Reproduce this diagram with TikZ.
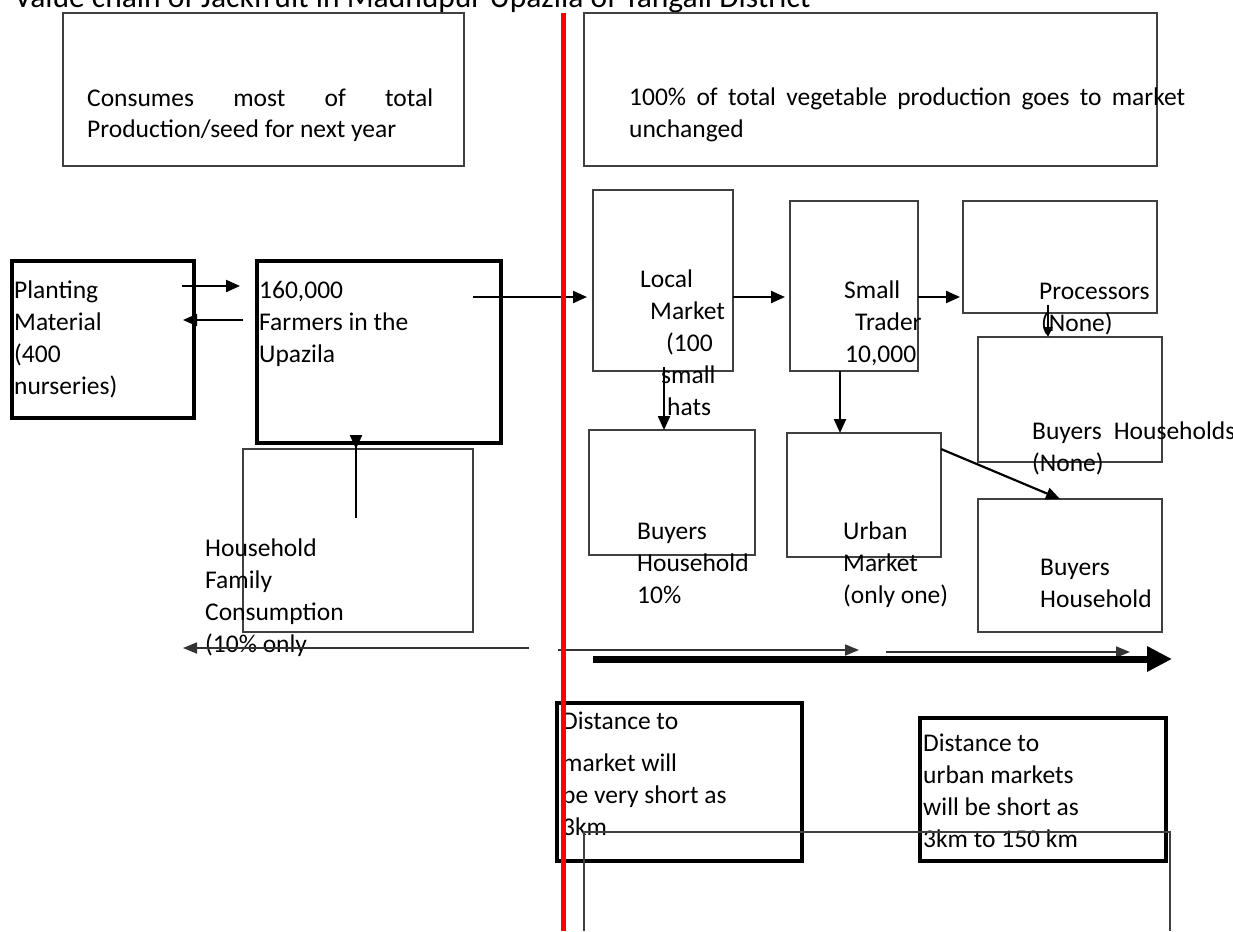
\documentclass[tikz,border=0pt]{standalone}
\usepackage{fontspec}
\setmainfont{Carlito}
\usepackage{tikz}
\usetikzlibrary{arrows.meta, positioning, fit, calc}

\begin{document}
\begin{tikzpicture}[
  x=1pt, y=-1pt,
  box/.style={rectangle, draw=black!75, line width=1.6pt, inner sep=0pt, outer sep=0pt},
  boldbox/.style={box, draw=black, line width=3.2pt},
  txt/.style={anchor=base west, align=left, inner sep=0pt, font=\fontsize{25.5}{32}\selectfont},
  arrow/.style={line width=2.2pt, -{Triangle[length=14pt,width=12pt]}},
  flow/.style={draw=black!80, line width=1.8pt, -{Triangle[length=14pt,width=11pt]}},
  bigflow/.style={line width=7pt, -{Triangle[length=25pt,width=24pt]}},
  divider/.style={red, line width=5pt}
]
\useasboundingbox (0,0) rectangle (1233,931);
\clip (0,0) rectangle (1233,931);

\node (title) [txt, font=\fontsize{31.5}{38}\selectfont] at (14,8) {Value chain of Jackfruit in Madhupur Upazila of Tangail District};

\node (cons) [box, fit={(63,13) (464,166)}] {};
\node (prod) [box, fit={(584,13) (1157,166)}] {};
\node (plant) [boldbox, fit={(12,261) (194,418)}] {};
\node (farm) [boldbox, fit={(257,261) (501,443)}] {};
\node (hh) [box, fit={(243,449) (473,632)}] {};
\node (local) [box, fit={(593,190) (733,371)}] {};
\node (small) [box, fit={(790,201) (918,371)}] {};
\node (proc) [box, fit={(963,201) (1157,313)}] {};
\node (bh2) [box, fit={(978,337) (1162,462)}] {};
\node (buy1) [box, fit={(589,430) (755,555)}] {};
\node (urban) [box, fit={(787,433) (941,557)}] {};
\node (bh3) [box, fit={(978,499) (1162,632)}] {};
\node (dist1) [boldbox, fit={(557,703) (802,861)}] {};
\node (dist2) [boldbox, fit={(920,718) (1166,861)}] {};

\node (consT) [txt] at (87,138) {\makebox[346pt][s]{Consumes most of total}\\Production/seed for next year};
\node (prodT) [txt] at (629,137) {\makebox[556pt][s]{100\% of total vegetable production goes to market}\\unchanged};
\node (plantT) [txt] at (14,394) {Planting\\Material\\(400\\nurseries)};
\node (farmT) [txt] at (259,362) {160,000\\Farmers in the\\Upazila};
\node (hhT) [txt] at (205,652) {Household\\Family\\Consumption\\(10\% only};
\node (localT) [txt] at (640,415) {Local\\\hspace*{10pt}Market\\\hspace*{26pt}(100\\\hspace*{21pt}small\\\hspace*{27pt}hats};
\node (smallT) [txt] at (844,362) {Small\\\hspace*{11pt}Trader\\\hspace*{1pt}10,000};
\node (procT) [txt] at (1039,331) {Processors\\\hspace*{2pt}(None)};
\node (bh2T) [txt] at (1032,471) {Buyers\hspace{12pt}Households\\(None)};
\node (buy1T) [txt] at (637,603) {Buyers\\Household\\10\%};
\node (urbanT) [txt] at (843,603) {Urban\\Market\\(only one)};
\node (bh3T) [txt] at (1040,607) {Buyers\\Household};
\node (dist1T) [txt] at (562,835) {Distance to\\[10pt]market will\\be very short as\\3km};
\node (dist2T) [txt] at (923,847) {Distance to\\urban markets\\will be short as\\3km to 150 km};

\coordinate (r1) at (0,286);
\coordinate (r2) at (0,320);
\coordinate (r3) at (0,297);
\coordinate (c1) at (356,0);
\coordinate (c2) at (664,0);
\coordinate (c3) at (840,0);
\coordinate (c4) at (1048,0);

\draw [arrow, shorten <=-12pt, shorten >=17pt] (plant.east |- r1) -- (farm.west |- r1);
\draw [arrow, shorten <=14pt, shorten >=-11pt] (farm.west |- r2) -- (plant.east |- r2);
\draw [arrow, shorten <=-28pt, shorten >=6pt] (farm.east |- r3) -- (local.west |- r3);
\draw [arrow, shorten >=5pt] (local.east |- r3) -- (small.west |- r3);
\draw [arrow, shorten >=3pt] (small.east |- r3) -- (proc.west |- r3);
\draw [arrow, shorten <=-75pt] (farm.south -| c1) -- (hh.north -| c1);
\draw [arrow, shorten <=-4pt] (local.south -| c2) -- (buy1.north -| c2);
\draw [arrow] (small.south -| c3) -- (urban.north -| c3);
\draw [arrow, shorten <=-8pt, -{Triangle[length=10pt,width=9pt]}] (proc.south -| c4) -- (bh2.north -| c4);
\draw [arrow] ([yshift=-16pt]urban.north east) -- ([xshift=-10pt]bh3.north);
\draw [flow] ([shift={(56,16)}]hh.south east) -- ([shift={(-60,16)}]hh.south west);

\coordinate (f1s) at (558,650);
\coordinate (f1e) at (859,650);
\coordinate (f2s) at (886,652);
\coordinate (f2e) at (1130,652);
\coordinate (f3s) at (593,659);
\coordinate (f3e) at (1172,659);
\draw [flow] (f1s) -- (f1e);
\draw [flow] (f2s) -- (f2e);
\draw [bigflow] (f3s) -- (f3e);

\draw [divider] (563,13) -- (563,931);
\draw [draw=black!75, line width=1.6pt] (584,931) -- (584,832) -- (1170,832) -- (1170,931);
\end{tikzpicture}
\end{document}
